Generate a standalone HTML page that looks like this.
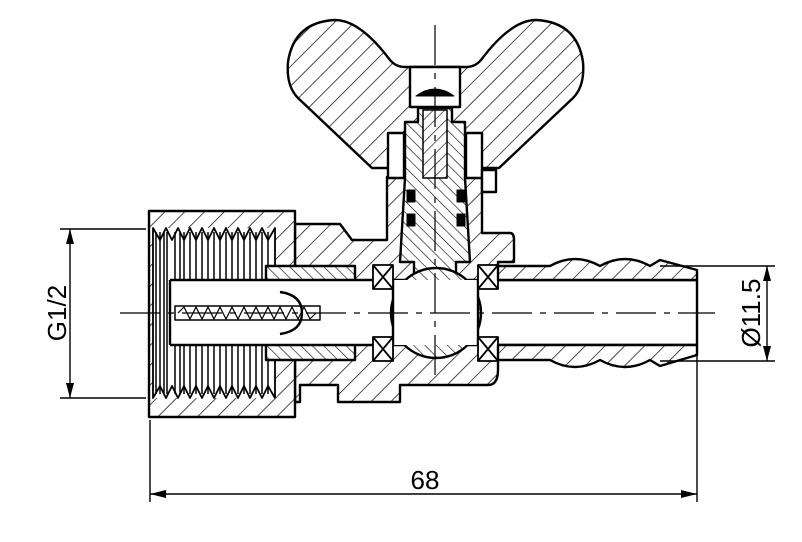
<!DOCTYPE html>
<html><head><meta charset="utf-8"><style>html,body{margin:0;padding:0;background:#fff}svg{display:block}</style></head>
<body>
<svg width="802" height="542" viewBox="0 0 802 542" xmlns="http://www.w3.org/2000/svg">
<defs>
<pattern id="h" width="14" height="14" patternUnits="userSpaceOnUse" patternTransform="rotate(45)"><rect width="14" height="14" fill="#fff"/><line x1="0" y1="0" x2="0" y2="14" stroke="#000" stroke-width="1.4"/></pattern>
<pattern id="h2" width="8" height="8" patternUnits="userSpaceOnUse" patternTransform="rotate(-45)"><rect width="8" height="8" fill="#fff"/><line x1="0" y1="0" x2="0" y2="8" stroke="#000" stroke-width="1.2"/></pattern>
<pattern id="h3" width="8" height="8" patternUnits="userSpaceOnUse" patternTransform="rotate(45)"><rect width="8" height="8" fill="#fff"/><line x1="0" y1="0" x2="0" y2="8" stroke="#000" stroke-width="1.2"/></pattern>
</defs>
<g stroke="#000" stroke-width="2.4" stroke-linejoin="round">
<path d="M372,168 L298,98 Q286,86 288,62 Q294,22 335,20 Q360,20 390,60 Q396,67 405,67 H466 Q475,67 481,60 Q511,20 536,20 Q577,22 583,62 Q585,86 573,98 L499,168 Z" fill="url(#h)"/>
<rect x="410" y="67" width="50" height="40" fill="#fff"/>
<path d="M416,96 Q435,82 454,96 Z" fill="#000" stroke-width="1"/>
<path d="M387,177 H482 V233 H510 Q514,233 514,240 V262 H498 V370 Q498,385 488,385 H400 V402 H338 V385 H300 V402 H295 V224 H340 L352,240 H387 Z" fill="url(#h)"/>
<rect x="388" y="133" width="16" height="45" fill="#fff"/>
<rect x="466" y="133" width="16" height="45" fill="#fff"/>
<rect x="482" y="170" width="14" height="22" fill="#fff"/>
<path d="M405,178 V122 H418 V108 H452 V122 H465 V178 L470,262 H456 V275 H414 V262 H400 Z" fill="url(#h2)"/>
<rect x="423" y="110" width="24" height="68" fill="url(#h3)" stroke-width="1.5"/>
<rect x="407" y="190" width="8" height="12" fill="#000" stroke-width="1"/>
<rect x="407" y="214" width="8" height="12" fill="#000" stroke-width="1"/>
<rect x="457" y="190" width="8" height="12" fill="#000" stroke-width="1"/>
<rect x="457" y="214" width="8" height="12" fill="#000" stroke-width="1"/>
<path d="M149,211 H295 V417 H149 Z" fill="url(#h)"/>
<rect x="153" y="228" width="122" height="170" fill="#fff" stroke="none"/>
<path d="M153,228 L160,240 L166,228 L172,240 L178,228 L184,240 L190,228 L196,240 L202,228 L208,240 L214,228 L220,240 L226,228 L232,240 L238,228 L244,240 L250,228 L256,240 L262,228 L268,240 L275,228 V398 L268,386 L262,398 L256,386 L250,398 L244,386 L238,398 L232,386 L226,398 L220,386 L214,398 L208,386 L202,398 L196,386 L190,398 L184,386 L178,398 L172,386 L166,398 L160,386 L153,398 Z" fill="none" stroke-width="1.8"/>
<g stroke-width="1.5"><path d="M156,232V394M160,232V394M164,232V394M167,232V394M175,232V280M180,232V280M184,232V280M190,232V280M196,232V280M202,232V280M208,232V280M214,232V280M220,232V280M226,232V280M232,232V280M238,232V280M244,232V280M250,232V280M256,232V280M262,232V280M268,232V280M175,345V394M180,345V394M184,345V394M190,345V394M196,345V394M202,345V394M208,345V394M214,345V394M220,345V394M226,345V394M232,345V394M238,345V394M244,345V394M250,345V394M256,345V394M262,345V394M268,345V394"/></g>
<path d="M266,266 H355 V360 H266 Z" fill="url(#h2)"/>
<rect x="170" y="280" width="527" height="65" fill="#fff" stroke="none"/>
<path d="M170,280 H266 M170,345 H266 M170,280 V345" fill="none"/>
<path d="M266,280 H697 V345 H266" fill="none"/>
<circle cx="436" cy="313" r="45" fill="url(#h2)"/>
<rect x="393" y="280" width="85" height="65" fill="#fff" stroke="none"/>
<path d="M393,280 V345 M478,280 V345" fill="none"/>
<g stroke-width="1.8" fill="#fff"><rect x="373" y="265" width="20" height="24"/><rect x="478" y="265" width="20" height="24"/><rect x="373" y="337" width="20" height="24"/><rect x="478" y="337" width="20" height="24"/>
<path d="M373,265L393,289M393,265L373,289M478,265L498,289M498,265L478,289M373,337L393,361M393,337L373,361M478,337L498,361M498,337L478,361"/></g>
<path d="M498,266 H550 Q575,252 600,266 Q625,252 650,266 L660,260 L697,270 V280 H498 Z" fill="url(#h)"/>
<path d="M498,345 H697 V355 L660,366 L650,360 Q625,374 600,360 Q575,374 550,360 H498 Z" fill="url(#h)"/>
<path d="M175,306 H320 V320 H175 Z" fill="#fff" stroke-width="1.5"/>
<path d="M178,313 L184,307 L190,319 L196,307 L202,319 L208,307 L214,319 L220,307 L226,319 L232,307 L238,319 L244,307 L250,319 L256,307 L262,319 L268,307 L274,319 L280,307 L286,319 L292,307 L298,319 L304,307 L310,319 L316,313" fill="none" stroke-width="1.2"/>
<path d="M280,292 Q302,295 302,313 Q302,331 280,334" fill="none"/>
</g>
<g stroke="#000" stroke-width="1.2" fill="none">
<path d="M120,313 H715" stroke-dasharray="40,8,6,8"/>
<path d="M435,25 V375" stroke-dasharray="40,8,6,8"/>
</g>
<g stroke="#000" stroke-width="1.4" fill="none">
<path d="M60,229 H146 M60,398 H146 M70,229 V398"/>
<path d="M150,420 V502 M697,340 V502 M150,494 H697"/>
<path d="M660,266 H775 M660,361 H775 M767,266 V361"/>
</g>
<g fill="#000">
<path d="M70,229 L66,244 L74,244 Z M70,398 L66,383 L74,383 Z"/>
<path d="M150,494 L166,490 L166,498 Z M697,494 L681,490 L681,498 Z"/>
<path d="M767,266 L763,281 L771,281 Z M767,361 L763,346 L771,346 Z"/>
</g>
<g font-family="Liberation Sans, sans-serif" font-size="26" fill="#000" text-anchor="middle">
<text x="425" y="489">68</text>
<text transform="translate(66,313) rotate(-90)">G1/2</text>
<text transform="translate(760,313) rotate(-90)">Ø11.5</text>
</g>
</svg>
</body></html>
